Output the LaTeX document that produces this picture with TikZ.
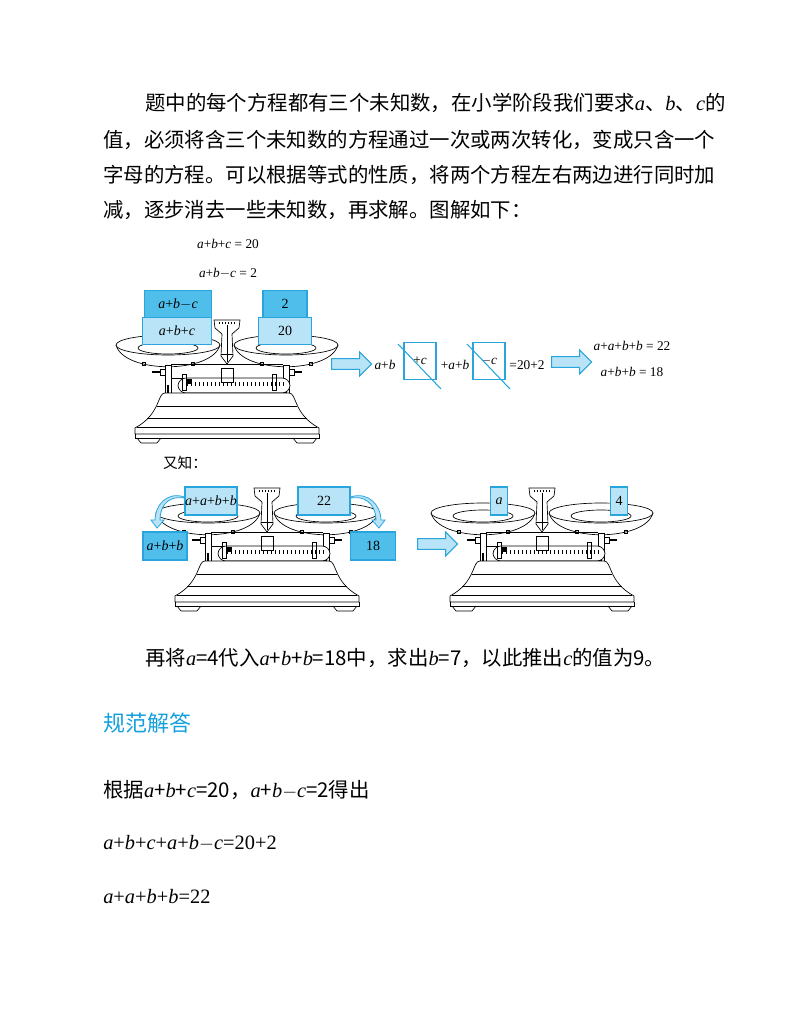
\documentclass[tikz,border=0pt]{standalone}
\usepackage{fontspec}
\setmainfont{Liberation Serif}
\newfontfamily\cjk{Noto Sans CJK SC}
\usetikzlibrary{shapes.arrows}
\definecolor{boxline}{RGB}{40,165,220}
\definecolor{dark}{RGB}{80,190,235}
\definecolor{light}{RGB}{185,228,247}
\definecolor{title}{RGB}{20,160,220}
\newcommand{\lt}[1]{{\normalfont\itshape #1}}
\newcommand{\mn}{{\normalfont$-$}}
\tikzset{
  blk/.style={draw=boxline,line width=0.8pt,inner sep=0pt,font=\fontsize{10.5}{10.5}\selectfont},
  bigarrow/.style={single arrow,draw=boxline,fill=light,line width=0.8pt,minimum height=30pt,
    minimum width=18pt,single arrow head extend=3pt,inner sep=2pt},
  body/.style={anchor=west,inner sep=0pt,font=\fontsize{15.3}{15.3}\selectfont},
  eqn/.style={inner sep=0pt,font=\fontsize{10}{10}\selectfont},
}
% a balance, origin at the foot of the centre column
\newcommand{\balance}[2]{%
\begin{scope}[shift={(#1,#2)},line width=0.5pt]
  % pans
  \foreach \s in {-1,1}{
    \draw[fill=white] (\s*59-52,-55) .. controls (\s*59-44,-26) and (\s*59+44,-26) .. (\s*59+52,-55);
    \draw[fill=white] (\s*59,-55) ellipse (52 and 10);
    \draw (\s*59,-52) ellipse (30 and 6);
    \draw (\s*59-26,-38) rectangle +(3,3) (\s*59+23,-38) rectangle +(3,3);
    \draw[fill=white] (\s*59-3,-35) rectangle (\s*59+3,-2);
    \draw[line width=2pt] (\s*59,-15) -- (\s*59,0);
    \draw[fill=white] (\s*59+\s*3,-31) rectangle (\s*59+\s*8,-25);
    \draw[line width=2pt] (\s*59+\s*8,-28) -- (\s*59+\s*16,-28);
  }
  % beam and rule
  \draw (-56,-36) -- (56,-36) (-56,-22) -- (56,-22);
  \draw[rounded corners=6pt,fill=white] (-49,-22) rectangle (63,-7);
  \foreach \t in {-40,-36,...,56} \draw (\t,-18) -- (\t,-14);
  \draw[fill=black] (-40,-21) rectangle (-36,-17);
  \draw (-45,-26) rectangle (-41,-10) (45,-26) rectangle (49,-10);
  \draw (-6,-32) rectangle (6,-18);
  \draw (-6,-7) rectangle (6,-3) (-10,-3) rectangle (10,0);
  % centre column and dial
  \draw[fill=white] (-13,-80) -- (13,-80) -- (12,-72) -- (5,-66) -- (6,-44) -- (0,-36)
    -- (-6,-44) -- (-5,-66) -- (-12,-72) -- cycle;
  \foreach \t in {-8,-5,...,8} \draw[line width=0.3pt] (\t,-78) -- (\t,-76);
  \draw (0,-75) -- (0,-38) (-6,-46) -- (6,-46);
  % base
  \draw[fill=white] (-62,-7) -- (62,-7) .. controls (70,-7) and (66,14) .. (92,28)
    -- (92,34) -- (-92,34) -- (-92,28) .. controls (-66,14) and (-70,-7) .. (-62,-7);
  \draw (-70,6) -- (70,6) (-80,18) -- (80,18) (-90,27) -- (90,27);
  \draw (-92,34) -- (-92,38) -- (92,38) -- (92,34);
  \draw (-90,38) -- (-86,43) -- (-70,43) -- (-66,38) (90,38) -- (86,43) -- (70,43) -- (66,38);
\end{scope}}

\begin{document}
\begin{tikzpicture}[x=0.75pt,y=-0.75pt]
\useasboundingbox (0,0) rectangle (800,1035);

% text above
\node[body] (l1) at (145,103) {\cjk 题中的每个方程都有三个未知数，在小学阶段我们要求\lt{a}、\lt{b}、\lt{c}的};
\node[body] (l2) at (103,140) {\cjk 值，必须将含三个未知数的方程通过一次或两次转化，变成只含一个};
\node[body] (l3) at (103,175) {\cjk 字母的方程。可以根据等式的性质，将两个方程左右两边进行同时加};
\node[body] (l4) at (103,210) {\cjk 减，逐步消去一些未知数，再求解。图解如下：};

% first step
\node[eqn] (e1) at (228,244) {\lt{a}+\lt{b}+\lt{c} = 20};
\node[eqn] (e2) at (228,273) {\lt{a}+\lt{b}$-$\lt{c} = 2};
\balance{227}{400}
\node[blk,fill=light,minimum width=52pt,minimum height=20pt] (abc) at (177,331) {\lt{a}+\lt{b}+\lt{c}};
\node[blk,fill=dark,minimum width=50pt,minimum height=20pt] (abmc) at (178,304) {\lt{a}+\lt{b}$-$\lt{c}};
\node[blk,fill=light,minimum width=40pt,minimum height=20pt] (n20) at (285,331) {20};
\node[blk,fill=dark,minimum width=33pt,minimum height=20pt] (n2) at (285,304) {2};
\node[bigarrow] (ar1) at (349,364) {};
\node[eqn] (t1) at (385,365) {\lt{a}+\lt{b}};
\node[draw=boxline,line width=0.8pt,minimum width=24pt,minimum height=28pt,inner sep=0pt,font=\fontsize{10}{10}\selectfont] (c1) at (420,361) {+\lt{c}};
\draw[boxline,line width=0.8pt] (398,344) -- (441,389);
\node[eqn] (t2) at (455,365) {+\lt{a}+\lt{b}};
\node[draw=boxline,line width=0.8pt,minimum width=24pt,minimum height=28pt,inner sep=0pt,font=\fontsize{10}{10}\selectfont] (c2) at (489,361) {$-$\lt{c}};
\draw[boxline,line width=0.8pt] (467,344) -- (510,389);
\node[eqn] (t3) at (527,365) {=20+2};
\node[bigarrow] (ar2) at (569,362) {};
\node[eqn] (r1) at (632,346) {\lt{a}+\lt{a}+\lt{b}+\lt{b} = 22};
\node[eqn] (r2) at (632,372) {\lt{a}+\lt{b}+\lt{b} = 18};

% second step
\node[inner sep=0pt,font=\fontsize{11}{11}\selectfont\cjk] (yz) at (185,463) {又知：};
\balance{267}{568}
\balance{542}{568}
\node[blk,fill=light,minimum width=39pt,minimum height=21pt] (aabb) at (211,501) {\lt{a}+\lt{a}+\lt{b}+\lt{b}};
\node[blk,fill=light,minimum width=39pt,minimum height=21pt] (n22) at (324,501) {22};
\node[blk,fill=dark,minimum width=33pt,minimum height=21pt] (abb) at (165,546) {\lt{a}+\lt{b}+\lt{b}};
\node[blk,fill=dark,minimum width=34pt,minimum height=21pt] (n18) at (373,546) {18};
\draw[boxline,fill=light,line width=0.6pt] (aabb.west) ++(0,-3) .. controls +(-20,-3) and +(0,-10) .. (160,520)
  -- (164,520) -- (157,528) -- (151,520) -- (155,520) .. controls +(0,-14) and +(-18,-6) .. ([yshift=3pt]aabb.west) -- cycle;
\draw[boxline,fill=light,line width=0.6pt] (n22.east) ++(0,-3) .. controls +(20,-3) and +(0,-10) .. (376,520)
  -- (372,520) -- (379,528) -- (385,520) -- (381,520) .. controls +(0,-14) and +(18,-6) .. ([yshift=3pt]n22.east) -- cycle;
\node[bigarrow] (ar3) at (435,544) {};
\node[blk,fill=light,minimum width=13pt,minimum height=21pt] (na) at (499,501) {\lt{a}};
\node[blk,fill=light,minimum width=13pt,minimum height=21pt] (n4) at (619,501) {4};

% text below
\node[body] (l5) at (145,658) {\cjk 再将\lt{a}=4代入\lt{a}+\lt{b}+\lt{b}=18中，求出\lt{b}=7，以此推出\lt{c}的值为9。};
\node[body,text=title,font=\fontsize{16.5}{16.5}\selectfont] (h) at (103,723) {\cjk 规范解答};
\node[body] (l6) at (103,790) {\cjk 根据\lt{a}+\lt{b}+\lt{c}=20，\lt{a}+\lt{b}\mn\lt{c}=2得出};
\node[body] (l7) at (103,843) {\lt{a}+\lt{b}+\lt{c}+\lt{a}+\lt{b}$-$\lt{c}=20+2};
\node[body] (l8) at (103,897) {\lt{a}+\lt{a}+\lt{b}+\lt{b}=22};
\end{tikzpicture}
\end{document}
